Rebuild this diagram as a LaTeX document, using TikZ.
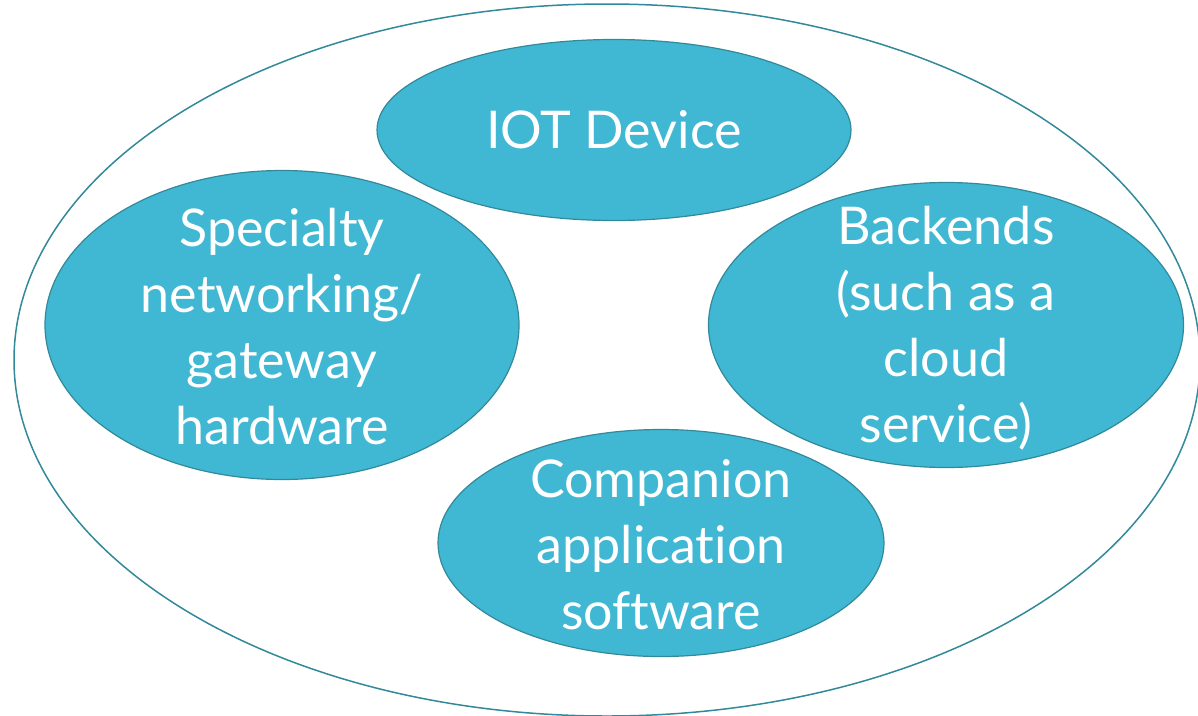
\documentclass[tikz,border=0pt]{standalone}
\usepackage{fontspec}
\setmainfont{Lato}[Ligatures=NoCommon]
\usetikzlibrary{shapes.geometric,positioning}
\definecolor{sky}{HTML}{41B8D3}
\definecolor{deepteal}{HTML}{31899A}
\tikzset{
  bubble/.style={ellipse, draw=deepteal, fill=sky, line width=1.2pt, inner sep=0pt},
  caption/.style={align=center, text=white, inner sep=0pt, font=\fontsize{52}{66}\selectfont},
  rim/.style={ellipse, draw=deepteal, line width=1.5pt, inner sep=0pt}
}
\begin{document}
\begin{tikzpicture}[x=1pt, y=-1pt]
  \useasboundingbox (0,0) rectangle (1198,715);
  \clip (0,0) rectangle (1198,715);
  % surrounding system
  \node[rim, minimum width=1186pt, minimum height=712pt] (system) at (607,360) {};
  % the four parts
  \node[bubble, minimum width=474pt, minimum height=181pt] (iot) at (614,130) {};
  \node[bubble, minimum width=474pt, minimum height=309pt] (gateway) at (282,325) {};
  \node[bubble, minimum width=475pt, minimum height=285pt] (backend) at (946,325) {};
  \node[bubble, minimum width=446pt, minimum height=227pt] (companion) at (661,543) {};
  % their captions
  \node[caption] (iottext) at (iot.center) {IOT Device};
  \node[caption] (gatewaytext) at ([yshift=-2pt]gateway.center) {Specialty\\networking/\\gateway\\hardware};
  \node[caption] (backendtext) at ([yshift=-3pt]backend.center) {Backends\\(such as a\\cloud\\service)};
  \node[caption] (companiontext) at ([yshift=-2pt]companion.center) {Companion\\application\\software};
\end{tikzpicture}
\end{document}
